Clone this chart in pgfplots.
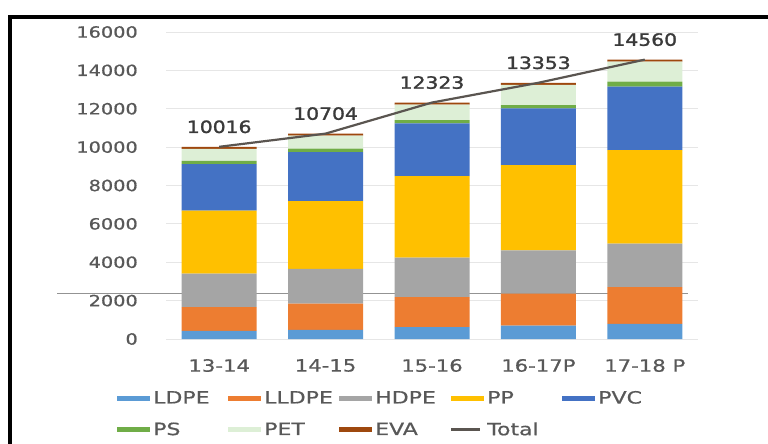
\documentclass[border=0pt]{standalone}
\usepackage{pgfplots}
\pgfplotsset{compat=1.18}
\usepackage{pgfplotstable}
\usepackage{graphicx}
\usepackage{fontspec}
\setmainfont{DejaVu Sans}[FakeBold=0.6]
\newfontfamily\datafont{DejaVu Sans}[FakeBold=1.4]
\newcommand{\WY}[1]{\scalebox{1.25}[1]{#1}}
\newcommand{\WX}[1]{\scalebox{1.25}[1]{#1}}
\newcommand{\WL}[1]{\scalebox{1.3}[1]{#1}}
\newcommand{\WD}[1]{\scalebox{1.2}[1]{#1}}
\definecolor{cLDPE}{HTML}{5B9BD5}
\definecolor{cLLDPE}{HTML}{ED7D31}
\definecolor{cHDPE}{HTML}{A5A5A5}
\definecolor{cPP}{HTML}{FFC000}
\definecolor{cPVC}{HTML}{4472C4}
\definecolor{cPS}{HTML}{70AD47}
\definecolor{cPET}{HTML}{DDEFD6}
\definecolor{cEVA}{HTML}{9E480E}
\definecolor{cTotal}{HTML}{5A5550}
\definecolor{cgrid}{HTML}{E6E6E6}
\definecolor{ctext}{HTML}{585858}
\definecolor{cdata}{HTML}{3A3A3A}
\pgfplotsset{
  base/.style={at={(0,0)}, anchor=south west, scale only axis,
    width=532bp, height=307bp, xmin=-0.5, xmax=4.5, ymin=0, ymax=16000, clip=false},
  swatch/.style={legend image code/.code={\fill[##1] (0bp,-2.5bp) rectangle (33bp,2.5bp);}},
  lineleg/.style={legend image code/.code={\draw[##1] (0bp,0bp) -- (29bp,0bp);}},
}
\pgfplotstableread{
x LDPE LLDPE HDPE PP PVC PS PET EVA
0 420 1240 1750 3280 2420 170 630 106
1 480 1360 1820 3530 2550 180 680 104
2 620 1560 2060 4250 2750 170 800 113
3 700 1660 2260 4440 2960 170 1050 113
4 790 1910 2270 4870 3310 260 1040 110
}\bars
\pgfplotstableread{
x total label
0 10016 10016
1 10704 10704
2 12323 12323
3 13353 13353
4 14560 14560
}\totals
\begin{document}
\begin{tikzpicture}
\useasboundingbox (-166bp,-105bp) rectangle (602bp,339bp);
% layer 1: grid, ticks, stray line
\begin{axis}[base,
  axis line style={draw=none}, major tick length=0,
  scaled y ticks=false,
  ymajorgrids, grid style={draw=cgrid, line width=0.8bp},
  ytick={0,2000,...,16000},
  yticklabels={\WY{0},\WY{2000},\WY{4000},\WY{6000},\WY{8000},\WY{10000},\WY{12000},\WY{14000},\WY{16000}},
  xtick={0,1,2,3,4},
  xticklabels={\WX{13-14},\WX{14-15},\WX{15-16},\WX{16-17P},\WX{17-18 P}},
  yticklabel style={font=\fontsize{15.5}{18}\selectfont, text=ctext, inner sep=0pt, anchor=east, xshift=-28bp},
  xticklabel style={font=\fontsize{17}{20}\selectfont, text=ctext, inner sep=0pt, anchor=center, yshift=-26.5bp},
]
\addplot[draw=gray!85, line width=1.2bp, forget plot] coordinates {(-1.52,2360) (4.41,2360)};
\end{axis}
% layer 2: stacked bars
\begin{axis}[base, hide axis, ybar stacked, bar width=75bp]
\addplot[fill=cLDPE, draw=none] table[x=x, y=LDPE] {\bars};
\addplot[fill=cLLDPE, draw=none] table[x=x, y=LLDPE] {\bars};
\addplot[fill=cHDPE, draw=none] table[x=x, y=HDPE] {\bars};
\addplot[fill=cPP, draw=none] table[x=x, y=PP] {\bars};
\addplot[fill=cPVC, draw=none] table[x=x, y=PVC] {\bars};
\addplot[fill=cPS, draw=none] table[x=x, y=PS] {\bars};
\addplot[fill=cPET, draw=none] table[x=x, y=PET] {\bars};
\addplot[fill=cEVA, draw=none] table[x=x, y=EVA] {\bars};
\end{axis}
% layer 3: total line, labels, legend
\begin{axis}[base, hide axis,
  legend columns=5,
  legend cell align=left,
  legend style={at={(0,0)}, anchor=north west, xshift=-49bp, yshift=-51.8bp,
    draw=none, fill=none, inner sep=0pt, row sep=17.3bp,
    font=\fontsize{17}{20}\selectfont, text=ctext,
    nodes={inner sep=0pt, text width=75bp, align=left},
    /tikz/every odd column/.append style={column sep=3bp}},
]
\addlegendimage{swatch, fill=cLDPE, draw=none}\addlegendentry{\WL{LDPE}}
\addlegendimage{swatch, fill=cLLDPE, draw=none}\addlegendentry{\WL{LLDPE}}
\addlegendimage{swatch, fill=cHDPE, draw=none}\addlegendentry{\WL{HDPE}}
\addlegendimage{swatch, fill=cPP, draw=none}\addlegendentry{\WL{PP}}
\addlegendimage{swatch, fill=cPVC, draw=none}\addlegendentry{\WL{PVC}}
\addlegendimage{swatch, fill=cPS, draw=none}\addlegendentry{\WL{PS}}
\addlegendimage{swatch, fill=cPET, draw=none}\addlegendentry{\WL{PET}}
\addlegendimage{swatch, fill=cEVA, draw=none}\addlegendentry{\WL{EVA}}
\addplot[draw=cTotal, line width=2.2bp, mark=none, lineleg,
  nodes near coords={\WD{\pgfplotspointmeta}},
  point meta=explicit symbolic,
  every node near coord/.append style={anchor=center, yshift=20bp, inner sep=0pt,
    font=\datafont\fontsize{17}{20}\selectfont, text=cdata}]
  table[x=x, y=total, meta=label] {\totals};
\addlegendentry{\WL{Total}}
\end{axis}
% picture frame (top and left edges)
\draw[black, line width=4bp] (-156bp,-110bp) -- (-156bp,322bp) -- (610bp,322bp);
\end{tikzpicture}
\end{document}
